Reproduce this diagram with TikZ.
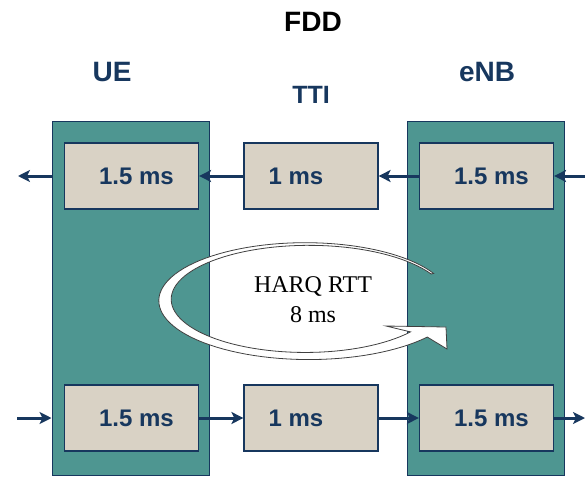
\documentclass[tikz,border=0pt]{standalone}
\usepackage{fontspec}
\setmainfont{Liberation Serif}
\setsansfont{Liberation Sans}
\usetikzlibrary{arrows.meta}

\definecolor{boxteal}{RGB}{78,150,145}
\definecolor{boxbeige}{RGB}{217,210,197}
\definecolor{darknavy}{RGB}{23,55,94}

\begin{document}
\begin{tikzpicture}[x=1pt,y=-1pt,
  station/.style={draw=darknavy,line width=1pt,fill=boxteal,minimum width=157pt,minimum height=354pt,inner sep=0pt},
  slot/.style={draw=darknavy,line width=1.2pt,fill=boxbeige,minimum width=134pt,minimum height=66pt,inner sep=0pt,
    text=darknavy,font=\sffamily\bfseries\fontsize{24}{28}\selectfont},
  head/.style={text=darknavy,anchor=base,font=\sffamily\bfseries\fontsize{28}{32}\selectfont},
  link/.style={draw=darknavy,line width=3pt,-{Stealth[length=12pt,width=12pt,inset=3pt]}}]
  \useasboundingbox (0,0) rectangle (585,476);

  % the two stations
  \node[station] (ue) at (130.5,298) {};
  \node[station] (enb) at (486,298) {};

  % round trip arrow
  \draw[black!75,line width=0.8pt,fill=white]
    plot[domain=-28:-322,samples=90,variable=\t]
      ({307+142*(1.01+0.065*(-28-(\t))/294)*cos(\t)},{300+56*(1.01+0.065*(-28-(\t))/294)*sin(\t)})
    -- (447,349) -- (446,327) -- (386,326)
    -- plot[domain=-322:-28,samples=90,variable=\t]
      ({307+142*(0.99-0.065*(-28-(\t))/294)*cos(\t)},{300+56*(0.99-0.065*(-28-(\t))/294)*sin(\t)})
    -- cycle;
  \node[align=center,font=\fontsize{24}{30}\selectfont] (rtt) at (313,300) {HARQ RTT\\8 ms};

  % processing slots
  \node[slot] (uetop) at (131.5,176) {\hspace*{10pt}1.5 ms};
  \node[slot] (midtop) at (311,176) {1 ms\hspace*{30pt}};
  \node[slot] (enbtop) at (486.5,176) {\hspace*{10pt}1.5 ms};
  \node[slot] (uebot) at (131.5,418) {\hspace*{10pt}1.5 ms};
  \node[slot] (midbot) at (311,418) {1 ms\hspace*{30pt}};
  \node[slot] (enbbot) at (486.5,418) {\hspace*{10pt}1.5 ms};

  % headings
  \node[head,text=black] (fdd) at (313,32) {FDD};
  \node[head] (uename) at (112,82) {UE};
  \node[head] (enbname) at (487,82) {eNB};
  \node[head,font=\sffamily\bfseries\fontsize{25}{30}\selectfont] (tti) at (311,103) {TTI};

  % downlink
  \coordinate (dlin) at (585,176);
  \coordinate (dlout) at (18,176);
  \draw[link] (dlin) -- (enbtop);
  \draw[link] (enbtop) -- (midtop);
  \draw[link] (midtop) -- (uetop);
  \draw[link] (ue.west |- uetop) -- (dlout);

  % uplink
  \coordinate (ulin) at (17,418);
  \coordinate (ulout) at (585,418);
  \draw[link] (ulin) -- (ue.west |- uebot);
  \draw[link] (uebot) -- (midbot);
  \draw[link] (midbot) -- (enbbot);
  \draw[link] (enbbot) -- (ulout);
\end{tikzpicture}
\end{document}
